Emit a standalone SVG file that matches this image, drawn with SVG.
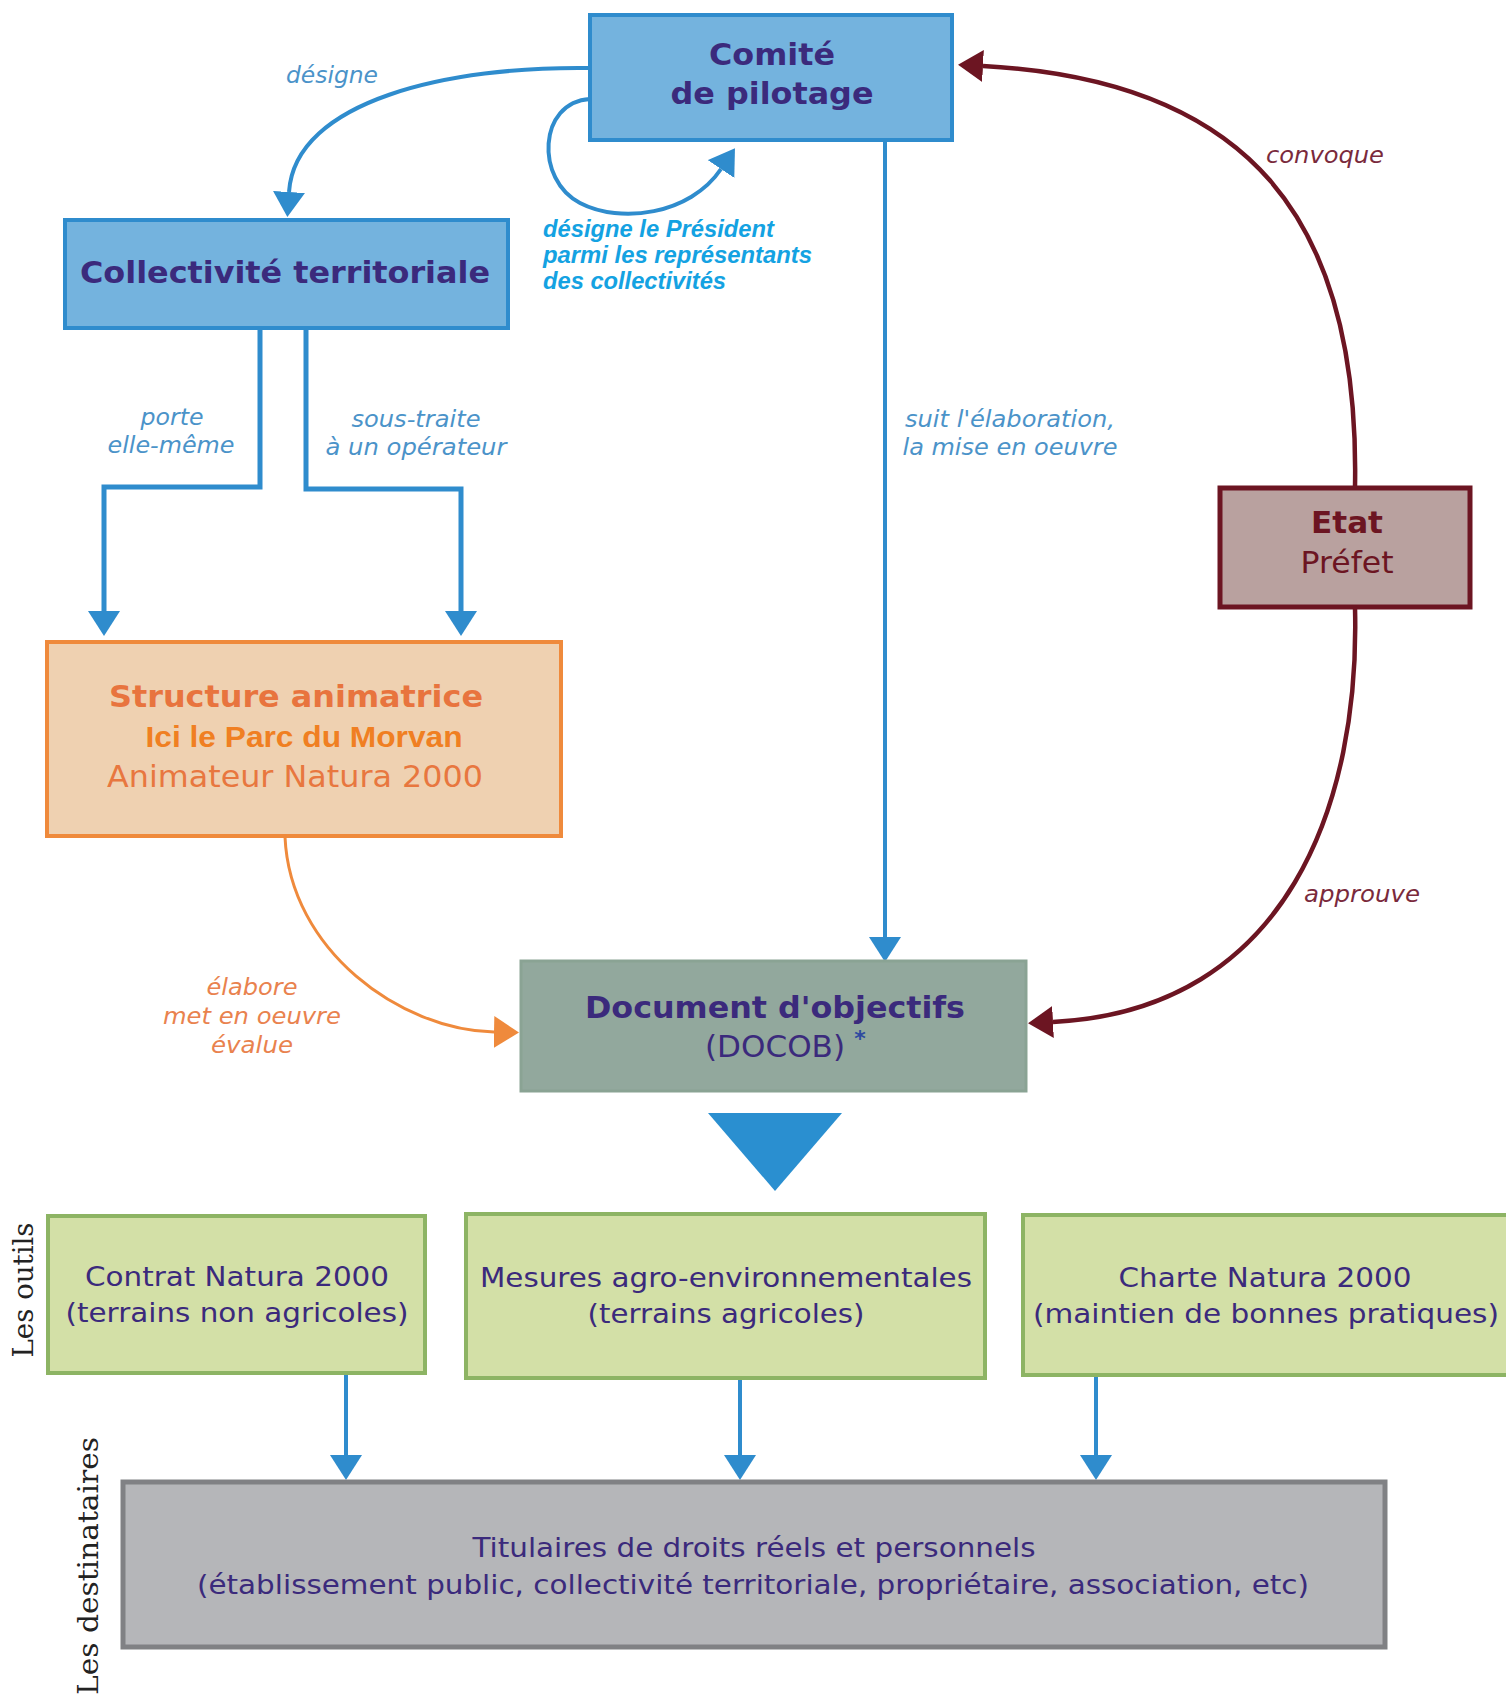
<svg xmlns="http://www.w3.org/2000/svg" width="1506" height="1702" viewBox="0 0 1506 1702">
  <style>
    .node-text { font-family: "DejaVu Sans", "Liberation Sans", sans-serif; text-anchor: middle; }
    .bold { font-weight: bold; }
    .purple { fill: #3b2a7c; }
    .lbl { font-family: "DejaVu Sans", "Liberation Sans", sans-serif; font-style: italic; font-size: 23px; text-anchor: middle; }
    .lbl-blue { fill: #4b93c9; }
    .lbl-red { fill: #7a2a3c; }
    .lbl-orange { fill: #e9824e; }
    .box-blue { fill: #74b3de; stroke: #2f8ccd; stroke-width: 4; }
    .box-green { fill: #d3e0a7; stroke: #8db464; stroke-width: 4; }
    .c-blue { fill: none; stroke: #2f8ccd; stroke-width: 4; }
    .c-red { fill: none; stroke: #6c1522; stroke-width: 4.5; }
    .c-orange { fill: none; stroke: #ef8a3c; stroke-width: 3; }
    .side { font-family: "DejaVu Serif", "Liberation Serif", serif; font-size: 28px; fill: #222; text-anchor: middle; }
  </style>
  <defs>
    <marker id="ah-blue" markerUnits="userSpaceOnUse" markerWidth="25" markerHeight="32" viewBox="0 0 25 32" refX="0" refY="16" orient="auto">
      <path d="M0,0 L25,16 L0,32 Z" fill="#2f8ccd"/>
    </marker>
    <marker id="ah-red" markerUnits="userSpaceOnUse" markerWidth="25" markerHeight="32" viewBox="0 0 25 32" refX="0" refY="16" orient="auto">
      <path d="M0,0 L25,16 L0,32 Z" fill="#6c1522"/>
    </marker>
    <marker id="ah-orange" markerUnits="userSpaceOnUse" markerWidth="25" markerHeight="32" viewBox="0 0 25 32" refX="0" refY="16" orient="auto">
      <path d="M0,0 L25,16 L0,32 Z" fill="#ef8a3c"/>
    </marker>
  </defs>
  <rect width="1506" height="1702" fill="#ffffff"/>

  <g id="connectors">
    <path class="c-blue" d="M590 68 C450 66, 295 100, 289 192" marker-end="url(#ah-blue)"/>
    <path class="c-blue" d="M590 99 C538 102, 535 180, 580 203 C620 224, 690 215, 721 169" marker-end="url(#ah-blue)"/>
    <path class="c-blue" d="M885 140 L885 937" marker-end="url(#ah-blue)"/>
    <path class="c-blue" style="stroke-width:5" d="M260 328 L260 487 L104 487 L104 611" marker-end="url(#ah-blue)"/>
    <path class="c-blue" style="stroke-width:5" d="M306 328 L306 489 L461 489 L461 611" marker-end="url(#ah-blue)"/>
    <path class="c-red" d="M1355 487 C1360 220, 1250 80, 983 66" marker-end="url(#ah-red)"/>
    <path class="c-red" d="M1355 608 C1360 800, 1290 1010, 1053 1022" marker-end="url(#ah-red)"/>
    <path class="c-orange" d="M285 837 C290 950, 400 1030, 494 1032" marker-end="url(#ah-orange)"/>
    <polygon points="708,1113 842,1113 775,1191" fill="#2a8fd0"/>
    <path class="c-blue" d="M346 1373 L346 1455" marker-end="url(#ah-blue)"/>
    <path class="c-blue" d="M740 1378 L740 1455" marker-end="url(#ah-blue)"/>
    <path class="c-blue" d="M1096 1375 L1096 1455" marker-end="url(#ah-blue)"/>

    <text class="lbl lbl-blue" x="332" y="83" textLength="92" lengthAdjust="spacingAndGlyphs">désigne</text>
    <g font-family="'Liberation Sans', Arial, sans-serif" font-weight="bold" font-style="italic" font-size="23" fill="#14a2e2">
      <text x="543" y="237" textLength="231" lengthAdjust="spacingAndGlyphs">désigne le Président</text>
      <text x="543" y="263" textLength="269" lengthAdjust="spacingAndGlyphs">parmi les représentants</text>
      <text x="543" y="289" textLength="183" lengthAdjust="spacingAndGlyphs">des collectivités</text>
    </g>
    <text class="lbl lbl-blue" x="172" y="425" textLength="63" lengthAdjust="spacingAndGlyphs">porte</text>
    <text class="lbl lbl-blue" x="171" y="453" textLength="127" lengthAdjust="spacingAndGlyphs">elle-même</text>
    <text class="lbl lbl-blue" x="416" y="427" textLength="129" lengthAdjust="spacingAndGlyphs">sous-traite</text>
    <text class="lbl lbl-blue" x="416" y="455" textLength="181" lengthAdjust="spacingAndGlyphs">à un opérateur</text>
    <text class="lbl lbl-blue" x="1010" y="427" textLength="210" lengthAdjust="spacingAndGlyphs">suit l'élaboration,</text>
    <text class="lbl lbl-blue" x="1010" y="455" textLength="215" lengthAdjust="spacingAndGlyphs">la mise en oeuvre</text>
    <text class="lbl lbl-red" x="1325" y="163" textLength="118" lengthAdjust="spacingAndGlyphs">convoque</text>
    <text class="lbl lbl-red" x="1362" y="902" textLength="116" lengthAdjust="spacingAndGlyphs">approuve</text>
    <text class="lbl lbl-orange" x="252" y="995" textLength="91" lengthAdjust="spacingAndGlyphs">élabore</text>
    <text class="lbl lbl-orange" x="252" y="1024" textLength="178" lengthAdjust="spacingAndGlyphs">met en oeuvre</text>
    <text class="lbl lbl-orange" x="252" y="1053" textLength="82" lengthAdjust="spacingAndGlyphs">évalue</text>
  </g>

  <g id="comite">
    <rect class="box-blue" x="590" y="15" width="362" height="125"/>
    <text class="node-text bold purple" x="772" y="65" font-size="31" textLength="126" lengthAdjust="spacingAndGlyphs">Comité</text>
    <text class="node-text bold purple" x="772" y="104" font-size="31" textLength="203" lengthAdjust="spacingAndGlyphs">de pilotage</text>
  </g>

  <g id="collectivite">
    <rect class="box-blue" x="65" y="220" width="443" height="108"/>
    <text class="node-text bold purple" x="285" y="283" font-size="30" textLength="410" lengthAdjust="spacingAndGlyphs">Collectivité territoriale</text>
  </g>

  <g id="structure">
    <rect x="47" y="642" width="514" height="194" fill="#efd1b1" stroke="#ef8a3c" stroke-width="4"/>
    <text class="node-text bold" x="296" y="707" font-size="30" fill="#e8743e" textLength="374" lengthAdjust="spacingAndGlyphs">Structure animatrice</text>
    <text x="304" y="747" font-family="'Liberation Sans', Arial, sans-serif" font-weight="bold" font-size="30" fill="#f07f22" text-anchor="middle" textLength="317" lengthAdjust="spacingAndGlyphs">Ici le Parc du Morvan</text>
    <text class="node-text" x="295" y="787" font-size="30" fill="#e8773f" textLength="376" lengthAdjust="spacingAndGlyphs">Animateur Natura 2000</text>
  </g>

  <g id="etat">
    <rect x="1220" y="488" width="250" height="119" fill="#b9a19f" stroke="#6c1522" stroke-width="5"/>
    <text class="node-text bold" x="1347" y="533" font-size="30" fill="#6c1522" textLength="72" lengthAdjust="spacingAndGlyphs">Etat</text>
    <text class="node-text" x="1347" y="573" font-size="30" fill="#6c1522" textLength="93" lengthAdjust="spacingAndGlyphs">Préfet</text>
  </g>

  <g id="docob">
    <rect x="521" y="961" width="505" height="130" fill="#92a89d" stroke="#8aa394" stroke-width="3"/>
    <text class="node-text bold purple" x="775" y="1018" font-size="30" textLength="380" lengthAdjust="spacingAndGlyphs">Document d'objectifs</text>
    <text class="node-text purple" x="775" y="1057" font-size="30" textLength="140" lengthAdjust="spacingAndGlyphs">(DOCOB)</text>
    <text x="860" y="1046" font-family="'DejaVu Sans', sans-serif" font-weight="bold" font-size="22" fill="#2e4aa0" text-anchor="middle">*</text>
  </g>

  <g id="contrat">
    <rect class="box-green" x="48" y="1216" width="377" height="157"/>
    <text class="node-text purple" x="237" y="1286" font-size="27" textLength="304" lengthAdjust="spacingAndGlyphs">Contrat Natura 2000</text>
    <text class="node-text purple" x="237" y="1322" font-size="27" textLength="343" lengthAdjust="spacingAndGlyphs">(terrains non agricoles)</text>
  </g>

  <g id="mesures">
    <rect class="box-green" x="466" y="1214" width="519" height="164"/>
    <text class="node-text purple" x="726" y="1287" font-size="27" textLength="492" lengthAdjust="spacingAndGlyphs">Mesures agro-environnementales</text>
    <text class="node-text purple" x="726" y="1323" font-size="27" textLength="277" lengthAdjust="spacingAndGlyphs">(terrains agricoles)</text>
  </g>

  <g id="charte">
    <rect class="box-green" x="1023" y="1215" width="490" height="160"/>
    <text class="node-text purple" x="1265" y="1287" font-size="27" textLength="293" lengthAdjust="spacingAndGlyphs">Charte Natura 2000</text>
    <text class="node-text purple" x="1266" y="1323" font-size="27" textLength="466" lengthAdjust="spacingAndGlyphs">(maintien de bonnes pratiques)</text>
  </g>

  <g id="titulaires">
    <rect x="123" y="1482" width="1262" height="165" fill="#b5b6b9" stroke="#808184" stroke-width="5"/>
    <text class="node-text purple" x="754" y="1557" font-size="26" textLength="563" lengthAdjust="spacingAndGlyphs">Titulaires de droits réels et personnels</text>
    <text class="node-text purple" x="753" y="1594" font-size="26" textLength="1112" lengthAdjust="spacingAndGlyphs">(établissement public, collectivité territoriale, propriétaire, association, etc)</text>
  </g>

  <g id="side-labels">
    <text class="side" transform="translate(33,1290) rotate(-90)" textLength="135" lengthAdjust="spacingAndGlyphs">Les outils</text>
    <text class="side" transform="translate(98,1566) rotate(-90)" textLength="258" lengthAdjust="spacingAndGlyphs">Les destinataires</text>
  </g>
</svg>
